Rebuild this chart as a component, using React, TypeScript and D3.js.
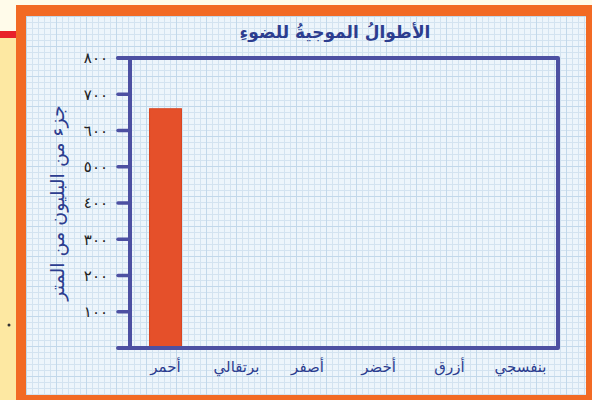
import React from "react";
import * as d3 from "d3";

const categories = ["أحمر", "برتقالي", "أصفر", "أخضر", "أزرق", "بنفسجي"];
const values = [660, 0, 0, 0, 0, 0];
const yTicks = [100, 200, 300, 400, 500, 600, 700, 800];
const title = "الأطوالُ الموجيةُ للضوءِ";
const yTitle = "جزء من البليون من المتر";

const toArabicDigits = (s: string) => s.replace(/[0-9]/g, (d) => "٠١٢٣٤٥٦٧٨٩"[+d]);

export default function App() {
  const W = 592, H = 400;
  const x0 = 130, x1 = 556, y0 = 348, y1 = 58;
  const x = d3.scaleBand<string>().domain(categories).range([x0, x1]).paddingInner(0.55).paddingOuter(0.275);
  const y = d3.scaleLinear().domain([0, 800]).range([y0, y1]);
  const ink = "#4d50a2";
  const textBlue = "#2c3d8f";
  const font = "'DejaVu Sans', sans-serif";

  return (
    <div style={{ position: "absolute", left: 0, top: 0 }}>
      <svg width={W} height={H} style={{ display: "block" }}>
        <defs>
          <pattern id="grid" width={6} height={6} patternUnits="userSpaceOnUse" x={26} y={16}>
            <rect width={6} height={6} fill="#edf5fb" />
            <path d="M0 0.5 H6 M0.5 0 V6" stroke="#d3e3f0" strokeWidth={1} />
          </pattern>
          <pattern id="gridMajor" width={30} height={30} patternUnits="userSpaceOnUse" x={26} y={16}>
            <path d="M0 0.5 H30 M0.5 0 V30" stroke="#c2d8ea" strokeWidth={1} />
          </pattern>
        </defs>
        <rect x={0} y={0} width={W} height={H} fill="#fffbea" />
        <rect x={0} y={37} width={16} height={H - 37} fill="#fde8a2" />
        <rect x={0} y={31} width={16} height={7} fill="#e8212a" />
        <circle cx={9} cy={325} r={1.5} fill="#333" />
        <rect x={16} y={5} width={W - 16} height={H - 5} fill="#f26a24" />
        <rect x={26} y={16} width={560} height={379} fill="url(#grid)" />
        <rect x={26} y={16} width={560} height={379} fill="url(#gridMajor)" />

        <text x={335} y={38} textAnchor="middle" fontFamily={font} fontSize={17} fontWeight="bold" fill={textBlue}>{title}</text>

        {categories.map((c, i) => values[i] > 0 && (
          <rect key={c} x={x(c)} y={y(values[i])} width={x.bandwidth()} height={y(0) - y(values[i])} fill="#e5502a" stroke="#d8441f" strokeWidth={1} />
        ))}

        <path d={`M${x0 - 12} ${y1} H${x1 + 2} V${y0} H${x0 - 12}`} fill="none" stroke={ink} strokeWidth={4} strokeLinecap="round" strokeLinejoin="round" />
        <line x1={x0} x2={x0} y1={y1} y2={y0} stroke={ink} strokeWidth={4} strokeLinecap="round" />
        {yTicks.map((t) => (
          <g key={t}>
            <line x1={x0 - 12} x2={x0} y1={y(t)} y2={y(t)} stroke={ink} strokeWidth={3.5} strokeLinecap="round" />
            <text x={108} y={y(t)} dy="0.35em" textAnchor="end" fontFamily={font} fontSize={15} fill="#222">{toArabicDigits(d3.format("d")(t))}</text>
          </g>
        ))}

        {categories.map((c) => (
          <text key={c} x={(x(c) ?? 0) + x.bandwidth() / 2} y={372} textAnchor="middle" fontFamily={font} fontSize={15} fill={textBlue}>{c}</text>
        ))}

        <text transform={`translate(64,203) rotate(-90)`} textAnchor="middle" fontFamily={font} fontSize={19} fill={textBlue}>{yTitle}</text>
      </svg>
    </div>
  );
}
